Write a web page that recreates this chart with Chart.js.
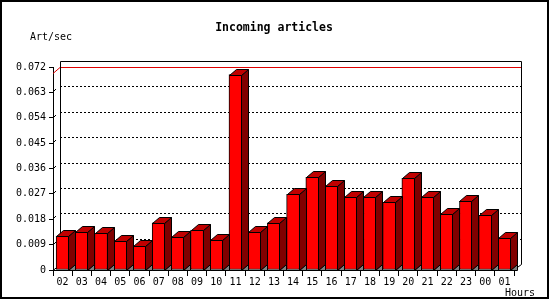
<!DOCTYPE html>
<html lang="en">
<head>
    <meta charset="UTF-8">
    <title>Incoming articles</title>
    <style>
        body { margin: 0; background: #fff; }
        canvas { display: block; }
    </style>
</head>
<body>
    <canvas id="mychart" width="550" height="300"></canvas>

    <script src="https://cdn.jsdelivr.net/npm/chart.js@4.4.1/dist/chart.umd.min.js"></script>
    <script>
        // data
        const hours = ['02','03','04','05','06','07','08','09','10','11','12','13',
                       '14','15','16','17','18','19','20','21','22','23','00','01'];
        const artPerSec = [0.0120, 0.0135, 0.0131, 0.0103, 0.0084, 0.0167, 0.0116, 0.0142,
                           0.0106, 0.0693, 0.0134, 0.0167, 0.0268, 0.0329, 0.0297, 0.0258,
                           0.0258, 0.0240, 0.0325, 0.0258, 0.0198, 0.0244, 0.0194, 0.0112];
        const yMax = 0.072;
        const yStep = 0.009;

        const DX = 7, DY = 6;   // depth of the 3d effect
        const FONT = '"DejaVu Sans Mono", monospace';

        const bars3d = {
            id: 'bars3d',
            beforeDatasetsDraw(chart) {
                const ctx = chart.ctx;
                const a = chart.chartArea;
                const ys = chart.scales.y;
                const L = Math.round(a.left), R = Math.round(a.right);
                const T = Math.round(a.top), B = Math.round(a.bottom);
                ctx.save();
                ctx.lineWidth = 1;
                ctx.strokeStyle = '#000';

                // dotted grid on the back wall
                ctx.setLineDash([2, 2]);
                ys.ticks.forEach(t => {
                    if (t.value <= 0 || t.value >= yMax) return;
                    const y = Math.round(ys.getPixelForValue(t.value)) - DY + 0.5;
                    ctx.beginPath();
                    ctx.moveTo(L + DX, y);
                    ctx.lineTo(R + DX, y);
                    ctx.stroke();
                });
                ctx.setLineDash([]);

                // little slanted marks between front axis and back wall
                ys.ticks.forEach(t => {
                    if (t.value <= 0 || t.value >= yMax) return;
                    const y = Math.round(ys.getPixelForValue(t.value));
                    ctx.beginPath();
                    ctx.moveTo(L + 1, y - 1);
                    ctx.lineTo(L + 3, y - 3);
                    ctx.stroke();
                });

                // red line at the maximum
                const ym = Math.round(ys.getPixelForValue(Math.max(...artPerSec))) - DY - 2 + 0.5;
                ctx.strokeStyle = '#e00000';
                ctx.beginPath();
                ctx.moveTo(L, ym + DY);
                ctx.lineTo(L + DX, ym);
                ctx.lineTo(R + DX, ym);
                ctx.stroke();

                // back wall frame and floor
                ctx.strokeStyle = '#000';
                ctx.beginPath();
                ctx.moveTo(L + DX + 0.5, B - DY);
                ctx.lineTo(L + DX + 0.5, T - DY + 0.5);
                ctx.lineTo(R + DX + 0.5, T - DY + 0.5);
                ctx.lineTo(R + DX + 0.5, B - DY + 0.5);
                ctx.lineTo(R - 1, B + 0.5);
                ctx.moveTo(L, B + 0.5);
                ctx.lineTo(L + DX + 0.5, B - DY + 0.5);
                ctx.stroke();
                ctx.restore();
            },
            afterDatasetsDraw(chart) {
                const ctx = chart.ctx;
                const meta = chart.getDatasetMeta(0);
                ctx.save();
                ctx.lineWidth = 1;
                ctx.strokeStyle = '#000';
                meta.data.forEach(bar => {
                    const x0 = Math.round(bar.x - bar.width / 2) + 0.5;
                    const x1 = Math.round(bar.x + bar.width / 2) - 0.5;
                    const yt = Math.round(bar.y) + 0.5;
                    const yb = Math.round(bar.base) + 0.5;

                    // floor shadow
                    ctx.fillStyle = '#808080';
                    ctx.beginPath();
                    ctx.moveTo(x1, yb);
                    ctx.lineTo(x1 + DX, yb - DY);
                    ctx.lineTo(x1 + DX, yb);
                    ctx.closePath();
                    ctx.fill();
                    ctx.stroke();

                    // side face
                    ctx.fillStyle = '#800000';
                    ctx.beginPath();
                    ctx.moveTo(x1, yt);
                    ctx.lineTo(x1 + DX, yt - DY);
                    ctx.lineTo(x1 + DX, yb - DY);
                    ctx.lineTo(x1, yb);
                    ctx.closePath();
                    ctx.fill();
                    ctx.stroke();

                    // top face
                    ctx.fillStyle = '#c00000';
                    ctx.beginPath();
                    ctx.moveTo(x0, yt);
                    ctx.lineTo(x0 + DX, yt - DY);
                    ctx.lineTo(x1 + DX, yt - DY);
                    ctx.lineTo(x1, yt);
                    ctx.closePath();
                    ctx.fill();
                    ctx.stroke();
                });
                ctx.restore();
            },
            afterDraw(chart) {
                const ctx = chart.ctx;
                ctx.save();
                ctx.fillStyle = '#000';
                ctx.textBaseline = 'middle';

                ctx.font = 'bold 11.5px ' + FONT;
                ctx.textAlign = 'center';
                ctx.fillText('Incoming articles', 274, 28);

                ctx.font = '10px ' + FONT;
                ctx.textAlign = 'left';
                ctx.fillText('Art/sec', 30, 37);
                ctx.fillText('Hours', 505, 293);

                // outer frame
                ctx.lineWidth = 2;
                ctx.strokeStyle = '#000';
                ctx.strokeRect(1, 1, 547, 297);
                ctx.restore();
            }
        };

        new Chart(document.getElementById('mychart'), {
            type: 'bar',
            data: {
                labels: hours,
                datasets: [{
                    data: artPerSec,
                    backgroundColor: '#ff0000',
                    borderColor: '#000',
                    borderWidth: 1,
                    borderSkipped: false,
                    barThickness: 13,
                    categoryPercentage: 1
                }]
            },
            options: {
                responsive: false,
                animation: false,
                devicePixelRatio: 1,
                layout: { padding: { top: 67, right: 36, left: 0, bottom: 0 } },
                plugins: {
                    legend: { display: false },
                    tooltip: { enabled: false }
                },
                scales: {
                    x: {
                        afterFit(scale) { scale.height = 30; },
                        grid: {
                            display: true,
                            drawOnChartArea: false,
                            drawTicks: true,
                            tickLength: 6,
                            color: '#000',
                            offset: true
                        },
                        border: { display: true, color: '#000' },
                        ticks: {
                            color: '#000',
                            font: { family: FONT, size: 10 },
                            padding: 0,
                            maxRotation: 0,
                            autoSkip: false
                        }
                    },
                    y: {
                        min: 0,
                        max: yMax,
                        afterFit(scale) { scale.width = 53; },
                        grid: {
                            display: true,
                            drawOnChartArea: false,
                            drawTicks: true,
                            tickLength: 4,
                            color: '#000'
                        },
                        border: { display: true, color: '#000' },
                        ticks: {
                            stepSize: yStep,
                            color: '#000',
                            font: { family: FONT, size: 10 },
                            padding: 3,
                            callback: v => v === 0 ? '0' : v.toFixed(3)
                        }
                    }
                }
            },
            plugins: [bars3d]
        });
    </script>
</body>
</html>
